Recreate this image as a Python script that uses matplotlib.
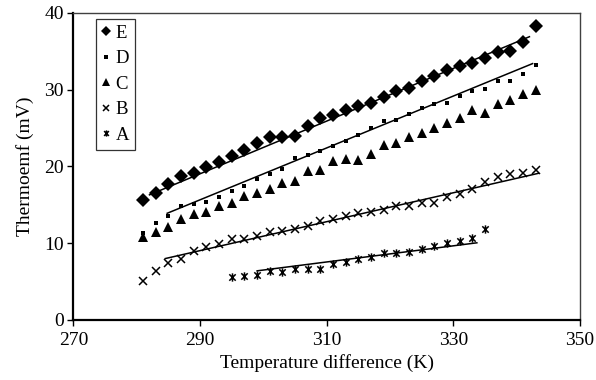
import matplotlib
matplotlib.use("Agg")
import matplotlib.pyplot as plt
import numpy as np
from matplotlib.path import Path
from matplotlib.lines import Line2D

plt.rcParams["font.family"] = ["Liberation Serif", "DejaVu Serif"]

# temperature difference (K), 2 K steps
temp = list(range(281, 344, 2))
temp_a = list(range(295, 336, 2))

emf_e = [15.6, 16.5, 17.7, 18.75, 19.1, 19.9, 20.6, 21.3, 22.2, 23.1, 23.8, 23.8,
         24.0, 25.3, 26.3, 26.7, 27.3, 27.9, 28.3, 29.1, 29.8, 30.2, 31.1, 31.8,
         32.5, 33.1, 33.5, 34.1, 34.9, 35.0, 36.2, 38.3]
emf_d = [11.3, 12.6, 13.5, 14.9, 15.1, 15.4, 16.0, 16.8, 17.5, 18.4, 19.0, 19.7,
         21.1, 21.5, 22.0, 22.6, 23.3, 24.1, 25.0, 25.9, 26.0, 26.8, 27.6, 28.1,
         28.3, 29.2, 29.8, 30.1, 31.1, 31.1, 32.0, 33.2]
emf_c = [10.8, 11.5, 12.1, 13.1, 13.8, 14.1, 14.8, 15.3, 16.1, 16.6, 17.1, 17.8,
         18.1, 19.4, 19.5, 20.7, 21.0, 20.9, 21.6, 22.8, 23.1, 23.9, 24.4, 25.0,
         25.7, 26.3, 27.3, 26.9, 28.1, 28.6, 29.4, 30.0]
emf_b = [5.1, 6.4, 7.4, 8.0, 9.0, 9.5, 9.9, 10.5, 10.6, 11.0, 11.4, 11.6,
         11.9, 12.3, 12.9, 13.2, 13.5, 13.9, 14.1, 14.3, 14.8, 14.8, 15.2, 15.3,
         16.0, 16.4, 17.1, 18.0, 18.6, 19.0, 19.1, 19.5]
emf_a = [5.6, 5.7, 5.9, 6.4, 6.3, 6.6, 6.7, 6.7, 7.3, 7.5, 7.9, 8.2, 8.7, 8.7,
         8.9, 9.2, 9.6, 10.0, 10.3, 10.7, 11.8]

# trend line end points
fit_e_x, fit_e_y = [282, 342], [16.3, 36.9]
fit_d_x, fit_d_y = [284.8, 342.5], [13.9, 33.4]
fit_b_x, fit_b_y = [284.5, 343.4], [8.0, 19.1]
fit_a_x, fit_a_y = [299, 333.7], [6.4, 10.05]

# x with a vertical bar (spreadsheet "star" marker)
star = Path([(-1, -1), (1, 1), (-1, 1), (1, -1), (0, -1.3), (0, 1.3)],
            [Path.MOVETO, Path.LINETO, Path.MOVETO, Path.LINETO, Path.MOVETO, Path.LINETO])

fig = plt.figure(figsize=(5.96, 3.80), dpi=100)
ax = fig.add_axes([0.1233, 0.158, 0.850, 0.808])

styles = {
    "E": dict(marker="D", ms=6.8, mfc="black", mec="black", mew=0),
    "D": dict(marker="s", ms=3.2, mfc="black", mec="black", mew=0),
    "C": dict(marker="^", ms=7.5, mfc="black", mec="black", mew=0),
    "B": dict(marker="x", ms=6, mfc="none", mec="black", mew=1.1),
    "A": dict(marker=star, ms=6, mfc="none", mec="black", mew=1.1),
}
series = {"E": (temp, emf_e), "D": (temp, emf_d), "C": (temp, emf_c),
          "B": (temp, emf_b), "A": (temp_a, emf_a)}

for name, (xs, ys) in series.items():
    ax.plot(xs, ys, ls="none", **styles[name])

for fx, fy in [(fit_e_x, fit_e_y), (fit_d_x, fit_d_y), (fit_b_x, fit_b_y), (fit_a_x, fit_a_y)]:
    ax.plot(fx, fy, color="black", lw=1.1)

ax.set_xlim(270, 350)
ax.set_ylim(0, 40)
ax.set_xticks(range(270, 351, 20))
ax.set_yticks(range(0, 41, 10))
ax.tick_params(direction="out", length=4, width=1, labelsize=14, colors="black", pad=3)
ax.tick_params(axis="x", pad=5)
ax.set_xlabel("Temperature difference (K)", fontsize=14, labelpad=3)
ax.set_ylabel("Thermoemf (mV)", fontsize=14, labelpad=7)
for side in ["left", "bottom"]:
    ax.spines[side].set_linewidth(1.6)
for side in ["top", "right"]:
    ax.spines[side].set_linewidth(1.0)
    ax.spines[side].set_color("#404040")

handles = [Line2D([], [], ls="none", **styles[n]) for n in series]
leg = ax.legend(handles, list(series), loc="upper left", bbox_to_anchor=(0.044, 0.98),
                borderaxespad=0, fontsize=13.5, frameon=True, fancybox=False,
                handlelength=0.5, handletextpad=0.25, labelspacing=0.45,
                borderpad=0.3, markerscale=0.75)
leg.get_frame().set_edgecolor("black")
leg.get_frame().set_linewidth(0.9)

fig.savefig("out.png", dpi=100)
